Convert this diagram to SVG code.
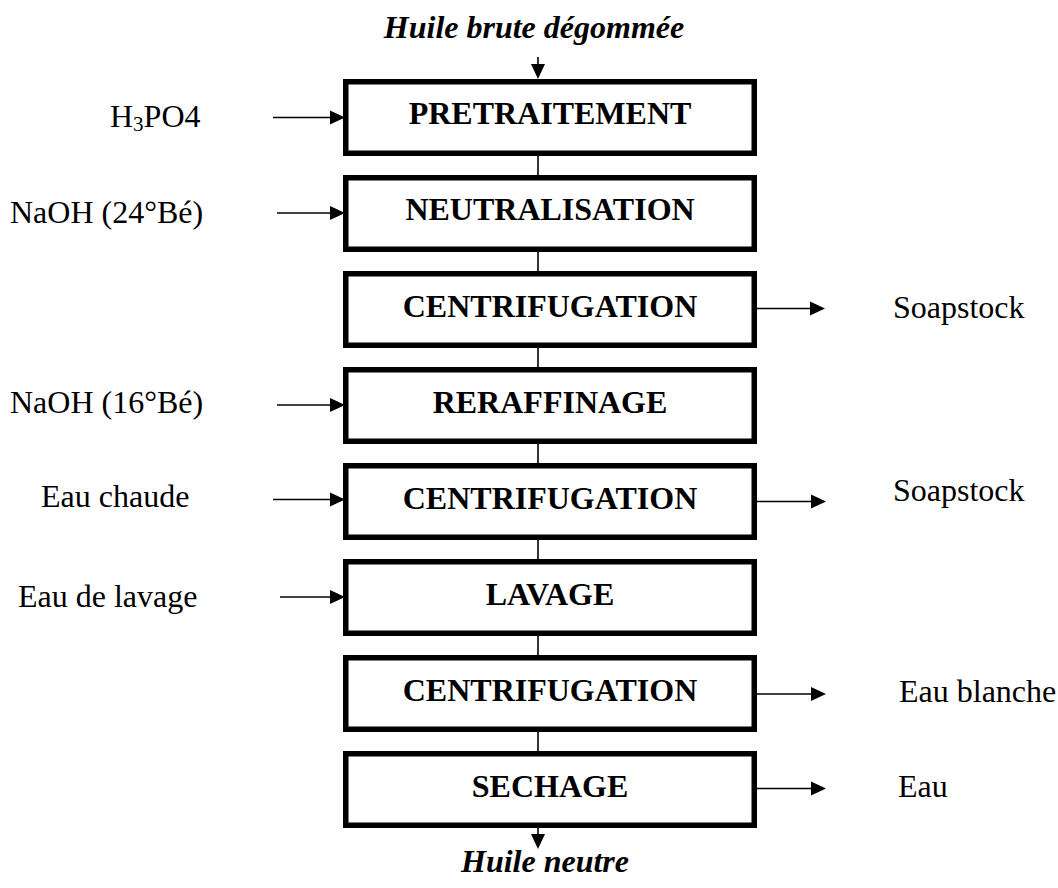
<svg xmlns="http://www.w3.org/2000/svg" width="1058" height="888" viewBox="0 0 1058 888">
  <style>
    .box { fill: #ffffff; stroke: #000000; stroke-width: 5.5; }
    .step { font-family: "Liberation Serif", "Times New Roman", serif; font-weight: bold; font-size: 32px; text-anchor: middle; fill: #000; }
    .io { font-family: "Liberation Serif", "Times New Roman", serif; font-weight: bold; font-style: italic; font-size: 32px; text-anchor: middle; fill: #000; }
    .lbl { font-family: "Liberation Serif", "Times New Roman", serif; font-size: 32px; fill: #000; }
    .wire { stroke: #000; stroke-width: 1.6; fill: none; }
    .head { fill: #000; stroke: none; }
  </style>
  <rect width="1058" height="888" fill="#ffffff"/>

  <!-- vertical flow and side streams -->
  <g id="connectors">
    <!-- feed into the first step -->
    <line class="wire" x1="538" y1="57" x2="538" y2="66"/>
    <polygon class="head" points="531,64 545,64 538,79"/>
    <!-- links between successive steps -->
    <line class="wire" x1="538" y1="155" x2="538" y2="175"/>
    <line class="wire" x1="538" y1="251" x2="538" y2="271"/>
    <line class="wire" x1="538" y1="347" x2="538" y2="367"/>
    <line class="wire" x1="538" y1="443" x2="538" y2="463"/>
    <line class="wire" x1="538" y1="539" x2="538" y2="559"/>
    <line class="wire" x1="538" y1="635" x2="538" y2="655"/>
    <line class="wire" x1="538" y1="731" x2="538" y2="751"/>
    <!-- product leaving the last step -->
    <line class="wire" x1="538" y1="828" x2="538" y2="836"/>
    <polygon class="head" points="531,834 545,834 538,849"/>

    <!-- reagents entering from the left -->
    <line class="wire" x1="273" y1="117.5" x2="332" y2="117.5"/>
    <polygon class="head" points="330,110.5 345,117.5 330,124.5"/>
    <line class="wire" x1="277" y1="213" x2="332" y2="213"/>
    <polygon class="head" points="330,206 345,213 330,220"/>
    <line class="wire" x1="277" y1="405" x2="332" y2="405"/>
    <polygon class="head" points="330,398 345,405 330,412"/>
    <line class="wire" x1="273" y1="499.5" x2="332" y2="499.5"/>
    <polygon class="head" points="330,492.5 345,499.5 330,506.5"/>
    <line class="wire" x1="280" y1="597" x2="332" y2="597"/>
    <polygon class="head" points="330,590 345,597 330,604"/>

    <!-- by-products leaving to the right -->
    <line class="wire" x1="757" y1="308.5" x2="812" y2="308.5"/>
    <polygon class="head" points="810,301.5 825,308.5 810,315.5"/>
    <line class="wire" x1="757" y1="501.5" x2="813" y2="501.5"/>
    <polygon class="head" points="811,494.5 826,501.5 811,508.5"/>
    <line class="wire" x1="757" y1="694" x2="813" y2="694"/>
    <polygon class="head" points="811,687 826,694 811,701"/>
    <line class="wire" x1="757" y1="788.5" x2="813" y2="788.5"/>
    <polygon class="head" points="811,781.5 826,788.5 811,795.5"/>
  </g>

  <!-- process steps -->
  <g id="pretraitement">
    <rect class="box" x="345.75" y="81.75" width="408.5" height="71.5"/>
    <text class="step" x="550" y="124">PRETRAITEMENT</text>
  </g>
  <g id="neutralisation">
    <rect class="box" x="345.75" y="177.75" width="408.5" height="71.5"/>
    <text class="step" x="550" y="220">NEUTRALISATION</text>
  </g>
  <g id="centrifugation-1">
    <rect class="box" x="345.75" y="273.75" width="408.5" height="71.5"/>
    <text class="step" x="550" y="316.5">CENTRIFUGATION</text>
  </g>
  <g id="reraffinage">
    <rect class="box" x="345.75" y="369.75" width="408.5" height="71.5"/>
    <text class="step" x="550" y="412.5">RERAFFINAGE</text>
  </g>
  <g id="centrifugation-2">
    <rect class="box" x="345.75" y="465.75" width="408.5" height="71.5"/>
    <text class="step" x="550" y="508.5">CENTRIFUGATION</text>
  </g>
  <g id="lavage">
    <rect class="box" x="345.75" y="561.75" width="408.5" height="71.5"/>
    <text class="step" x="550" y="604.5">LAVAGE</text>
  </g>
  <g id="centrifugation-3">
    <rect class="box" x="345.75" y="657.75" width="408.5" height="71.5"/>
    <text class="step" x="550" y="700.5">CENTRIFUGATION</text>
  </g>
  <g id="sechage">
    <rect class="box" x="345.75" y="753.75" width="408.5" height="71.5"/>
    <text class="step" x="550" y="796.5">SECHAGE</text>
  </g>

  <!-- feed and product -->
  <g id="feed">
    <text class="io" x="534" y="38">Huile brute dégommée</text>
  </g>
  <g id="product">
    <text class="io" x="545" y="872">Huile neutre</text>
  </g>

  <!-- inlet labels -->
  <g id="in-h3po4">
    <text class="lbl" x="110" y="127">H<tspan font-size="21" dy="4">3</tspan><tspan dy="-4">PO4</tspan></text>
  </g>
  <g id="in-naoh-24">
    <text class="lbl" x="10" y="223">NaOH (24°Bé)</text>
  </g>
  <g id="in-naoh-16">
    <text class="lbl" x="10" y="413">NaOH (16°Bé)</text>
  </g>
  <g id="in-eau-chaude">
    <text class="lbl" x="41" y="507">Eau chaude</text>
  </g>
  <g id="in-eau-lavage">
    <text class="lbl" x="18" y="607">Eau de lavage</text>
  </g>

  <!-- outlet labels -->
  <g id="out-soapstock-1">
    <text class="lbl" x="893" y="318">Soapstock</text>
  </g>
  <g id="out-soapstock-2">
    <text class="lbl" x="893" y="501">Soapstock</text>
  </g>
  <g id="out-eau-blanche">
    <text class="lbl" x="899" y="702">Eau blanche</text>
  </g>
  <g id="out-eau">
    <text class="lbl" x="898" y="797">Eau</text>
  </g>
</svg>
